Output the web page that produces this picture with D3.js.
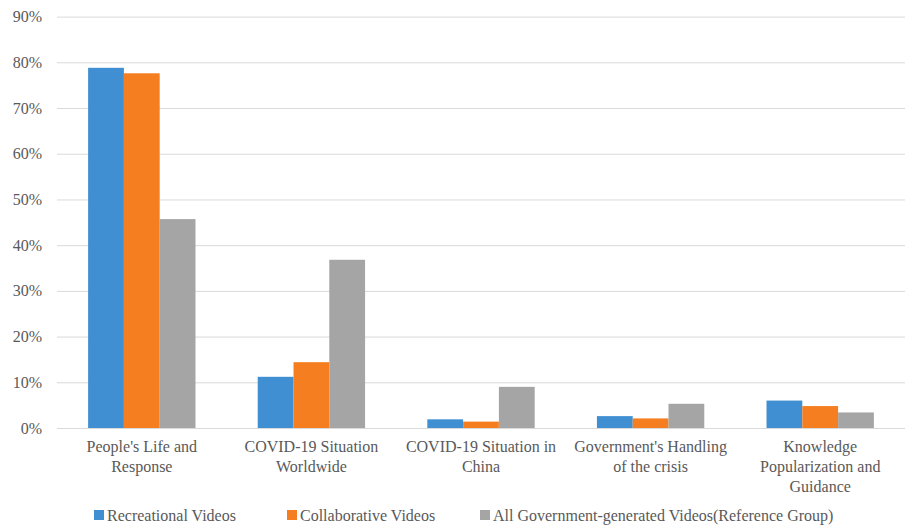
<!DOCTYPE html>
<html>
<head>
<meta charset="utf-8">
<script src="https://cdn.jsdelivr.net/npm/d3@7"></script>
<style>
  body { margin: 0; background: #fff; }
</style>
</head>
<body>
<div id="chart"></div>
<script>
// categories and series
var categories = [
  ["People's Life and", "Response"],
  ["COVID-19 Situation", "Worldwide"],
  ["COVID-19 Situation in", "China"],
  ["Government's Handling", "of the crisis"],
  ["Knowledge", "Popularization and", "Guidance"]
];
var seriesNames = ["Recreational Videos", "Collaborative Videos", "All Government-generated Videos(Reference Group)"];
var recreational = [78.8, 11.2, 1.9, 2.6, 6.0];
var collaborative = [77.6, 14.4, 1.4, 2.1, 4.8];
var allGov = [45.7, 36.8, 9.0, 5.3, 3.4];
var yTicks = [0, 10, 20, 30, 40, 50, 60, 70, 80, 90];
var colors = ["#3f8fd2", "#f57f20", "#a5a5a5"];

var seriesValues = [recreational, collaborative, allGov];

var W = 909, H = 526;
var plotLeft = 57, plotRight = 905, plotTop = 16.6, plotBottom = 428;
var serif = 'Liberation Serif';

var svg = d3.select('#chart')
  .append('svg')
  .attr('width', W)
  .attr('height', H);

var y = d3.scaleLinear().domain([0, 90]).range([plotBottom, plotTop]);

var x0 = d3.scaleBand()
  .domain(d3.range(categories.length))
  .range([plotLeft, plotRight])
  .paddingInner(0.367)
  .paddingOuter(0.1835);

var x1 = d3.scaleBand()
  .domain(d3.range(seriesNames.length))
  .range([0, x0.bandwidth()]);

// gridlines + y labels
var yAxis = d3.axisLeft(y)
  .tickValues(yTicks)
  .tickSize(-(plotRight - plotLeft))
  .tickPadding(15)
  .tickFormat(function(d){ return d + '%'; });

var ag = svg.append('g')
  .attr('transform', 'translate(' + plotLeft + ',0)')
  .call(yAxis);
ag.select('.domain').remove();
ag.selectAll('.tick line').attr('stroke', '#d9d9d9').attr('stroke-width', 1);
ag.selectAll('.tick text')
  .style('font-family', serif)
  .style('font-size', '16px')
  .attr('fill', '#595959');

// bars
var groups = svg.selectAll('g.cat')
  .data(categories.map(function(c, i){ return i; }))
  .enter()
  .append('g')
  .attr('class', 'cat')
  .attr('transform', function(i){ return 'translate(' + x0(i) + ',0)'; });

groups.selectAll('rect')
  .data(function(i){
    return seriesValues.map(function(s, k){ return { k: k, v: s[i] }; });
  })
  .enter()
  .append('rect')
  .attr('x', function(d){ return x1(d.k); })
  .attr('y', function(d){ return y(d.v); })
  .attr('width', x1.bandwidth())
  .attr('height', function(d){ return plotBottom - y(d.v); })
  .attr('fill', function(d){ return colors[d.k]; });

// category labels
var labels = svg.selectAll('text.cat')
  .data(categories)
  .enter()
  .append('text')
  .attr('class', 'cat')
  .attr('text-anchor', 'middle')
  .style('font-family', serif)
  .style('font-size', '16px')
  .attr('fill', '#595959')
  .attr('x', function(d, i){ return x0(i) + x0.bandwidth() / 2; })
  .attr('y', 452);

labels.selectAll('tspan')
  .data(function(d){ return d; })
  .enter()
  .append('tspan')
  .attr('x', function(){ return this.parentNode.getAttribute('x'); })
  .attr('dy', function(d, j){ return j === 0 ? 0 : 20; })
  .text(function(d){ return d; });

// legend
var legendX = [94, 287, 480];
var lg = svg.selectAll('g.legend')
  .data(seriesNames)
  .enter()
  .append('g')
  .attr('class', 'legend')
  .attr('transform', function(d, i){ return 'translate(' + legendX[i] + ',515)'; });

lg.append('rect')
  .attr('x', 0).attr('y', -5)
  .attr('width', 10).attr('height', 10)
  .attr('fill', function(d, i){ return colors[i]; });

lg.append('text')
  .attr('x', 13)
  .attr('y', 5.5)
  .style('font-family', serif)
  .style('font-size', '16px')
  .attr('fill', '#595959')
  .text(function(d){ return d; });
</script>
</body>
</html>
